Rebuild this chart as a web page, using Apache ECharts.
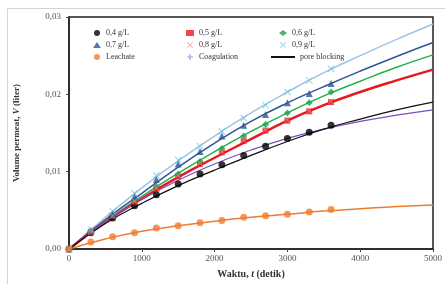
<!DOCTYPE html>
<html>
<head>
<meta charset="utf-8">
<script src="https://cdn.jsdelivr.net/npm/echarts@6/dist/echarts.min.js"></script>
<style>
  html, body { margin: 0; padding: 0; background: #fff; }
  #chart { width: 445px; height: 284px; }
</style>
</head>
<body>
<div id="chart"></div>
<script>
  // measured points (detik)
  var time = [0, 300, 600, 900, 1200, 1500, 1800, 2100, 2400, 2700, 3000, 3300, 3600]
  var v04 = [0, 0.0021, 0.0040, 0.0056, 0.0070, 0.0084, 0.0097, 0.0109, 0.0121, 0.0133, 0.0143, 0.0151, 0.0160]
  var v05 = [0, 0.0022, 0.0043, 0.0061, 0.0078, 0.0094, 0.0110, 0.0125, 0.0140, 0.0153, 0.0166, 0.0178, 0.0190]
  var v06 = [0, 0.0023, 0.0044, 0.0063, 0.0081, 0.0097, 0.0113, 0.0130, 0.0146, 0.0161, 0.0176, 0.0189, 0.0203]
  var v07 = [0, 0.0024, 0.0046, 0.0068, 0.0090, 0.0110, 0.0126, 0.0146, 0.0160, 0.0174, 0.0189, 0.0201, 0.0214]
  var v08 = [0, 0.0022, 0.0043, 0.0062, 0.0079, 0.0095, 0.0111, 0.0126, 0.0141, 0.0154, 0.0167, 0.0179, 0.0191]
  var v09 = [0, 0.0025, 0.0049, 0.0072, 0.0095, 0.0115, 0.0133, 0.0152, 0.0169, 0.0186, 0.0203, 0.0218, 0.0233]
  var leach = [0, 0.0009, 0.0016, 0.0021, 0.0027, 0.0030, 0.0034, 0.0037, 0.0041, 0.0043, 0.0045, 0.0048, 0.0051]

  // model curves
  var fitT = [0, 500, 1000, 1500, 2000, 2500, 3000, 3500, 4000, 4500, 5000]
  var fit05 = [0, 0.0035, 0.0065, 0.0093, 0.0118, 0.0142, 0.0166, 0.0186, 0.0203, 0.0218, 0.0232]
  var fit06 = [0, 0.0036, 0.0068, 0.0098, 0.0126, 0.0152, 0.0176, 0.0198, 0.0217, 0.0235, 0.0251]
  var fit07 = [0, 0.0038, 0.0072, 0.0106, 0.0137, 0.0165, 0.0189, 0.0210, 0.0230, 0.0249, 0.0267]
  var fit09 = [0, 0.0041, 0.0079, 0.0114, 0.0146, 0.0176, 0.0203, 0.0228, 0.0250, 0.0271, 0.0291]
  var fitLeach = [0, 0.0013, 0.0023, 0.0030, 0.0036, 0.0041, 0.0045, 0.0049, 0.0052, 0.0055, 0.0057]
  var coag = [0, 0.0035, 0.0064, 0.0089, 0.0110, 0.0128, 0.0143, 0.0155, 0.0165, 0.0173, 0.0180]
  var poreBlocking = [0, 0.0033, 0.0059, 0.0082, 0.0102, 0.0121, 0.0139, 0.0155, 0.0168, 0.0180, 0.0190]

  var yTicks = [0, 0.01, 0.02, 0.03]
  var xTicks = [0, 1000, 2000, 3000, 4000, 5000]

  var serif = '"Liberation Serif", "DejaVu Serif", serif'
  var crossPath = 'path://M1,0L5,4L9,0L10,1L6,5L10,9L9,10L5,6L1,10L0,9L4,5L0,1Z'
  var plusPath = 'path://M4,0H6V4H10V6H6V10H4V6H0V4H4Z'

  function pairs(xs, ys) {
    return xs.map(function(x, i) { return [x, ys[i]] })
  }

  function fitLine(name, ys, color, width) {
    return {
      name: name, type: 'line', data: pairs(fitT, ys), smooth: true,
      showSymbol: false, symbol: 'none', z: 2,
      itemStyle: { color: color },
      lineStyle: { color: color, width: width || 1.5 }
    }
  }

  function points(name, ys, symbol, size, color) {
    return {
      name: name, type: 'scatter', data: pairs(time, ys), symbol: symbol,
      symbolSize: size, itemStyle: { color: color }, z: 3
    }
  }

  var chart = echarts.init(document.getElementById('chart'))
  var legendText = { fontFamily: serif, fontSize: 8, color: '#333' }
  chart.setOption({
    animation: false,
    grid: { left: 69, right: 12, top: 17, bottom: 30, show: true, borderColor: '#222', borderWidth: 1.5 },
    legend: [
      { left: 88, top: 24, orient: 'vertical', itemGap: 4, itemWidth: 8, itemHeight: 6, textStyle: legendText,
        data: ['0,4 g/L', '0,7 g/L', 'Leachate'] },
      { left: 181, top: 24, orient: 'vertical', itemGap: 4, itemWidth: 8, itemHeight: 6, textStyle: legendText,
        data: ['0,5 g/L', '0,8 g/L', { name: 'Coagulation', icon: plusPath, itemStyle: { color: '#a99ce0' } }] },
      { left: 274, top: 24, orient: 'vertical', itemGap: 4, itemWidth: 8, itemHeight: 6, textStyle: legendText,
        data: ['0,6 g/L', '0,9 g/L'] },
      { left: 266, top: 48, itemWidth: 24, itemHeight: 6, itemGap: 2, textStyle: legendText,
        data: [{ name: 'pore blocking', icon: 'path://M0,4H24V6H0Z' }] }
    ],
    xAxis: {
      type: 'value', min: 0, max: 5000, interval: 1000,
      name: '{b|Waktu, }{i|t}{b| (detik)}', nameLocation: 'middle', nameGap: 20,
      nameTextStyle: { rich: {
        b: { fontFamily: serif, fontWeight: 'bold', fontSize: 10, color: '#333' },
        i: { fontFamily: serif, fontWeight: 'bold', fontStyle: 'italic', fontSize: 10, color: '#333' }
      } },
      axisLine: { lineStyle: { color: '#222', width: 1.5 } },
      axisTick: { length: 3, lineStyle: { color: '#444' } },
      splitLine: { show: false },
      axisLabel: { fontFamily: serif, fontSize: 9, color: '#555', margin: 5,
        formatter: function(v) { return xTicks.indexOf(v) >= 0 ? String(v) : '' } }
    },
    yAxis: {
      type: 'value', min: 0, max: 0.03, interval: 0.01,
      name: '{b|Volume permeat, }{i|V}{b| (liter)}', nameLocation: 'middle', nameGap: 48,
      nameTextStyle: { rich: {
        b: { fontFamily: serif, fontWeight: 'bold', fontSize: 9, color: '#333' },
        i: { fontFamily: serif, fontWeight: 'bold', fontStyle: 'italic', fontSize: 9, color: '#333' }
      } },
      axisLine: { show: true, lineStyle: { color: '#222', width: 1.5 } },
      axisTick: { show: true, length: 3, lineStyle: { color: '#444' } },
      splitLine: { show: false },
      axisLabel: { fontFamily: serif, fontSize: 9, color: '#555', margin: 8,
        formatter: function(v) {
          var t = yTicks.filter(function(y) { return Math.abs(y - v) < 1e-9 })
          return t.length ? t[0].toFixed(2).replace('.', ',') : ''
        } }
    },
    graphic: [
      { type: 'rect', shape: { x: 7.5, y: 8.5, width: 460, height: 300 }, silent: true,
        style: { fill: 'none', stroke: '#d4d4d4', lineWidth: 1 } }
    ],
    series: [
      fitLine('fit 0,9', fit09, '#9dc3e6', 1.5),
      fitLine('fit 0,7', fit07, '#2f5597', 1.5),
      fitLine('fit 0,6', fit06, '#22b14c', 1.5),
      fitLine('fit 0,5', fit05, '#e8191e', 2.5),
      fitLine('fit leachate', fitLeach, '#ed7d31', 1.5),
      fitLine('Coagulation', coag, '#7b4fc0', 1.2),
      fitLine('pore blocking', poreBlocking, '#111', 1.2),
      points('0,4 g/L', v04, 'circle', 7, '#000'),
      points('0,5 g/L', v05, 'rect', 6, '#e8191e'),
      points('0,6 g/L', v06, 'diamond', 7, '#22a04a'),
      points('0,7 g/L', v07, 'triangle', 7, '#2f5597'),
      points('0,8 g/L', v08, crossPath, 6, '#e88a8a'),
      points('0,9 g/L', v09, crossPath, 7, '#6fc3e6'),
      points('Leachate', leach, 'circle', 7, '#ed7d31')
    ]
  })
</script>
</body>
</html>
